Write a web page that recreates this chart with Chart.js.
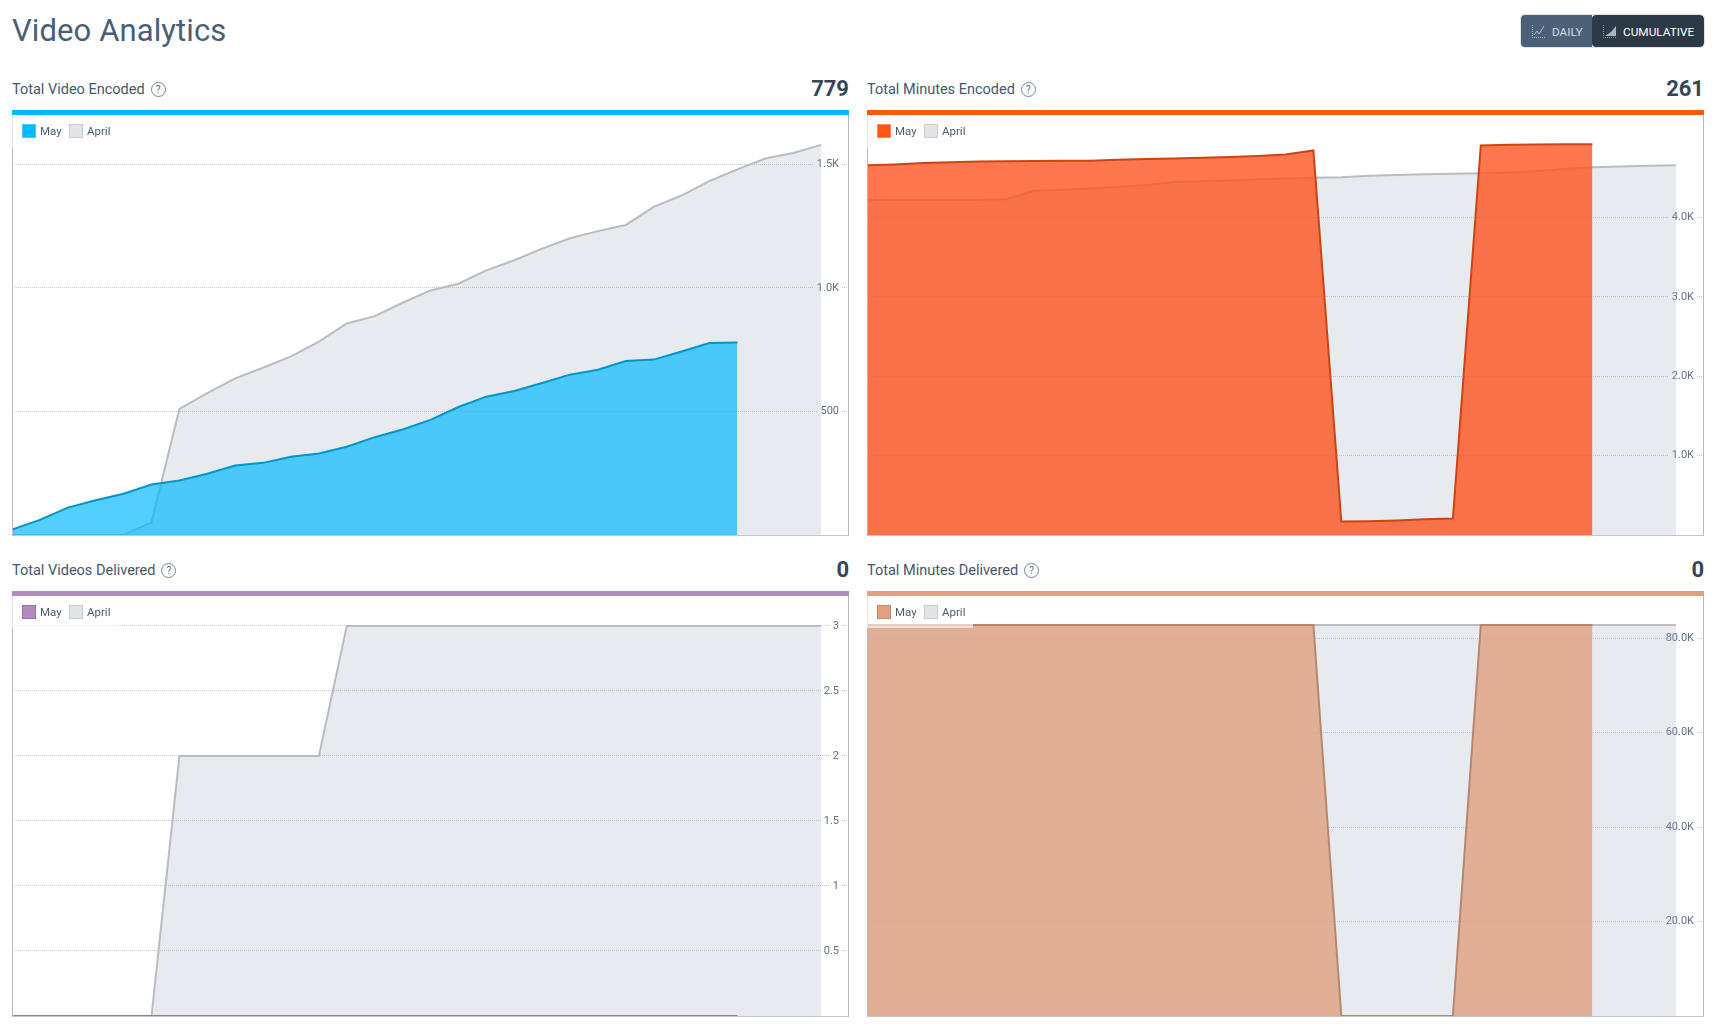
<!DOCTYPE html>
<html>
<head>
<meta charset="utf-8">
<title>Video Analytics</title>
<script src="https://cdn.jsdelivr.net/npm/chart.js@4/dist/chart.umd.min.js"></script>
<style>
    html, body { margin: 0; padding: 0; background: #fff; }
    body { width: 1720px; height: 1030px; position: relative; overflow: hidden; font-family: Roboto, sans-serif; color: #44586e; }
    h1 { position: absolute; left: 12px; top: 11px; margin: 0; font-size: 31px; line-height: 40px; font-weight: 400; color: #4a5f76; letter-spacing: 0.1px; }
    .toggle { position: absolute; left: 1521px; top: 15px; width: 183px; height: 32px; border-radius: 4px; box-shadow: 0 0 0 1px #dfe3e7; display: flex; overflow: hidden; font-size: 11.8px; }
    .toggle div { height: 32px; box-sizing: border-box; display: flex; align-items: center; padding-top: 1px; }
    .toggle .daily { width: 71px; background: #4a6178; color: #d3dae0; padding-left: 11px; }
    .toggle .cumulative { width: 112px; background: #2c3a47; color: #fff; padding-left: 11px; border-radius: 4px; }
    .toggle svg { margin-right: 6px; }
    .head { position: absolute; font-size: 14.5px; line-height: 20px; color: #44586e; }
    .help { display: inline-block; width: 13px; height: 13px; line-height: 13px; margin-left: 6px; border: 1px solid #73859a; border-radius: 50%; text-align: center; font-size: 10px; vertical-align: 1px; color: #5a6d82; }
    .total { position: absolute; width: 100px; text-align: right; font-size: 22px; line-height: 28px; font-weight: 700; color: #33475b; }
    .bar { position: absolute; width: 837px; height: 5px; }
    .panel { position: absolute; width: 837px; height: 421px; }
    .frame { position: absolute; left: 0; top: 0; width: 837px; height: 421px; box-sizing: border-box; border-left: 1px solid #b7bbc1; border-right: 1px solid #b7bbc1; border-bottom: 1px solid #c3c7cc; pointer-events: none; }
    .panel canvas { position: absolute; left: 0; top: 0; }
    .legend { position: absolute; left: 0; top: 0; width: 106px; height: 32px; background: rgba(255, 255, 255, 0.6); font-size: 11.5px; line-height: 14px; color: #4a5f75; }
    .legend i { position: absolute; top: 9px; width: 12px; height: 12px; border: 1px solid; }
    .legend span { position: absolute; top: 9px; }
</style>
</head>
<body>
<h1>Video Analytics</h1>
<div class="toggle">
    <div class="daily"><svg width="14" height="13" viewBox="0 0 14 13" fill="none" stroke="#aab5c0"><path d="M.5 0v12.5H14" stroke-dasharray="1 1"/><path d="M2 10l3-4 2 3 5-8"/></svg>DAILY</div>
    <div class="cumulative"><svg width="14" height="13" viewBox="0 0 14 13"><path d="M.5 0v12.5H14" fill="none" stroke="#8d99a5" stroke-dasharray="1 1"/><path d="M2 11l6-4 5-6v10z" fill="#aab5c0"/></svg>CUMULATIVE</div>
</div>

<script>
const days = ['1', '2', '3', '4', '5', '6', '7', '8', '9', '10', '11', '12', '13', '14', '15', '16', '17', '18', '19', '20', '21', '22', '23', '24', '25', '26', '27', '28', '29', '30', '31'];

// Total Video Encoded
const videoEncodedMay = [22, 61, 111, 141, 167, 204, 221, 248, 281, 292, 317, 330, 357, 396, 427, 466, 518, 560, 583, 615, 649, 669, 704, 710, 743, 777, 779];
const videoEncodedApril = [0, 0, 0, 0, 0, 51, 510, 574, 634, 677, 723, 783, 856, 886, 940, 990, 1017, 1071, 1112, 1159, 1201, 1230, 1255, 1328, 1374, 1433, 1480, 1524, 1546, 1579];
const videoEncodedTicks = [500, 1000, 1500];
const videoEncodedLabels = ['500', '1.0K', '1.5K'];

// Total Minutes Encoded
const minutesEncodedMay = [4657, 4668, 4685, 4695, 4705, 4708, 4710, 4713, 4713, 4725, 4735, 4742, 4750, 4762, 4775, 4792, 4843, 170, 174, 183, 199, 208, 4906, 4914, 4918, 4921, 4922];
const minutesEncodedApril = [4220, 4220, 4220, 4220, 4220, 4228, 4335, 4350, 4365, 4385, 4405, 4445, 4455, 4465, 4480, 4490, 4499, 4505, 4525, 4535, 4545, 4550, 4557, 4565, 4585, 4610, 4632, 4640, 4650, 4657];
const minutesEncodedTicks = [1000, 2000, 3000, 4000];
const minutesEncodedLabels = ['1.0K', '2.0K', '3.0K', '4.0K'];

// Total Videos Delivered
const videosDeliveredMay = [0, 0, 0, 0, 0, 0, 0, 0, 0, 0, 0, 0, 0, 0, 0, 0, 0, 0, 0, 0, 0, 0, 0, 0, 0, 0, 0];
const videosDeliveredApril = [0, 0, 0, 0, 0, 0, 2, 2, 2, 2, 2, 2, 3, 3, 3, 3, 3, 3, 3, 3, 3, 3, 3, 3, 3, 3, 3, 3, 3, 3];
const videosDeliveredTicks = [0.5, 1, 1.5, 2, 2.5, 3];
const videosDeliveredLabels = ['0.5', '1', '1.5', '2', '2.5', '3'];

// Total Minutes Delivered
const minutesDeliveredMay = [82760, 82760, 82760, 82760, 82760, 82760, 82760, 82760, 82760, 82760, 82760, 82760, 82760, 82760, 82760, 82760, 82760, 0, 0, 0, 0, 0, 82760, 82760, 82760, 82760, 82760];
const minutesDeliveredApril = [82760, 82760, 82760, 82760, 82760, 82760, 82760, 82760, 82760, 82760, 82760, 82760, 82760, 82760, 82760, 82760, 82760, 82760, 82760, 82760, 82760, 82760, 82760, 82760, 82760, 82760, 82760, 82760, 82760, 82760];
const minutesDeliveredTicks = [20000, 40000, 60000, 80000];
const minutesDeliveredLabels = ['20.0K', '40.0K', '60.0K', '80.0K'];

const seriesNames = ['May', 'April'];

function addPanel(opts) {
    const head = document.createElement('div');
    head.className = 'head';
    head.style.left = opts.left + 'px';
    head.style.top = (opts.top - 35) + 'px';
    head.innerHTML = `${opts.title}<span class="help">?</span>`;
    document.body.appendChild(head);

    const total = document.createElement('div');
    total.className = 'total';
    total.style.left = (opts.left + 737) + 'px';
    total.style.top = (opts.top - 40) + 'px';
    total.textContent = opts.total;
    document.body.appendChild(total);

    const bar = document.createElement('div');
    bar.className = 'bar';
    bar.style.left = opts.left + 'px';
    bar.style.top = (opts.top - 5) + 'px';
    bar.style.background = opts.color;
    document.body.appendChild(bar);

    const panel = document.createElement('div');
    panel.className = 'panel';
    panel.style.left = opts.left + 'px';
    panel.style.top = opts.top + 'px';
    panel.innerHTML = `<canvas width="837" height="420"></canvas><div class="frame"></div>
        <div class="legend">
            <i style="left:10px;background:${opts.color};border-color:${opts.legendBorder}"></i><span style="left:28px">${seriesNames[0]}</span>
            <i style="left:57px;background:#e1e4e8;border-color:#c8ccd1"></i><span style="left:75px">${seriesNames[1]}</span>
        </div>`;
    document.body.appendChild(panel);

    new Chart(panel.querySelector('canvas'), {
        type: 'line',
        data: {
            labels: days,
            datasets: [{
                label: seriesNames[0],
                data: opts.may,
                borderColor: opts.line,
                backgroundColor: opts.fill,
                borderWidth: 2,
                pointRadius: 0,
                tension: 0,
                fill: 'origin'
            }, {
                label: seriesNames[1],
                data: opts.april,
                borderColor: '#b9bcc0',
                backgroundColor: 'rgba(159, 172, 188, 0.25)',
                borderWidth: 2,
                pointRadius: 0,
                tension: 0,
                fill: 'origin'
            }]
        },
        options: {
            responsive: false,
            animation: false,
            layout: { padding: 0 },
            plugins: { legend: { display: false }, tooltip: { enabled: false } },
            scales: {
                x: { display: false, offset: false },
                y: {
                    position: 'right',
                    min: 0,
                    max: opts.max,
                    afterBuildTicks: (axis) => { axis.ticks = opts.ticks.map((value) => ({ value })); },
                    afterFit: (axis) => { axis.width = 0; },
                    border: { display: false, dash: [1, 1] },
                    grid: { color: '#c4c8cd', lineWidth: 1, drawTicks: false, z: -1 },
                    ticks: {
                        mirror: true,
                        padding: -10,
                        z: -1,
                        color: '#5d7086',
                        font: { family: 'Roboto', size: 11 },
                        showLabelBackdrop: true,
                        backdropColor: '#fff',
                        backdropPadding: { x: 3, y: 0 },
                        callback: (value, index) => opts.labels[index]
                    }
                }
            }
        }
    });
}

document.addEventListener('DOMContentLoaded', () => {
    addPanel({
        title: 'Total Video Encoded', total: '779', left: 12, top: 115, max: 1700,
        color: '#00bbff', legendBorder: '#4cc9f5', line: '#0096cc', fill: 'rgba(0, 184, 255, 0.68)',
        may: videoEncodedMay, april: videoEncodedApril, ticks: videoEncodedTicks, labels: videoEncodedLabels
    });
    addPanel({
        title: 'Total Minutes Encoded', total: '261', left: 867, top: 115, max: 5290,
        color: '#ff5614', legendBorder: '#fb8a5c', line: '#cc4510', fill: 'rgba(254, 84, 32, 0.8)',
        may: minutesEncodedMay, april: minutesEncodedApril, ticks: minutesEncodedTicks, labels: minutesEncodedLabels
    });
    addPanel({
        title: 'Total Videos Delivered', total: '0', left: 12, top: 596, max: 3.23,
        color: '#b48bbf', legendBorder: '#9a6fa8', line: '#a274b0', fill: 'rgba(180, 139, 191, 0.8)',
        may: videosDeliveredMay, april: videosDeliveredApril, ticks: videosDeliveredTicks, labels: videosDeliveredLabels
    });
    addPanel({
        title: 'Total Minutes Delivered', total: '0', left: 867, top: 596, max: 88889,
        color: '#e0a17f', legendBorder: '#c58a6a', line: '#b8866c', fill: 'rgba(224, 161, 127, 0.8)',
        may: minutesDeliveredMay, april: minutesDeliveredApril, ticks: minutesDeliveredTicks, labels: minutesDeliveredLabels
    });
});
</script>
</body>
</html>
